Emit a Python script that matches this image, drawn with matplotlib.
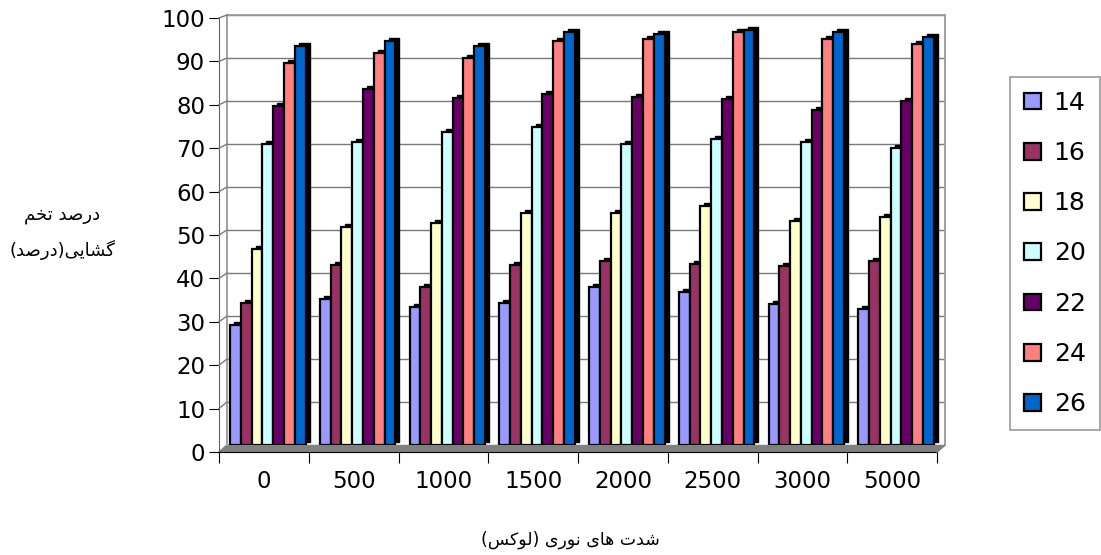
import numpy as np
import matplotlib
matplotlib.use('Agg')
import matplotlib.pyplot as plt
import matplotlib.transforms as mtransforms
from matplotlib.patches import Polygon
from matplotlib.lines import Line2D

# light intensity (lux) groups and temperature series
groups = ['0', '500', '1000', '1500', '2000', '2500', '3000', '5000']
series = ['14', '16', '18', '20', '22', '24', '26']
colors = ['#9999FF', '#993366', '#FFFFCC', '#CCFFFF', '#660066', '#FF8080', '#0066CC']

t14 = [28, 34, 32, 33, 36.7, 35.6, 32.8, 31.7]
t16 = [33, 41.8, 36.8, 41.8, 42.8, 42.2, 41.7, 42.9]
t18 = [45.6, 50.6, 51.7, 53.9, 53.9, 55.6, 52.1, 53.1]
t20 = [70, 70.5, 72.7, 74, 70, 71.2, 70.5, 69]
t22 = [78.8, 82.7, 80.8, 81.7, 81, 80.5, 77.8, 80]
t24 = [88.9, 91.1, 90, 93.9, 94.4, 96, 94.4, 93.3]
t26 = [92.9, 94, 92.9, 96.1, 95.6, 96.6, 96.1, 95]
values = [t14, t16, t18, t20, t22, t24, t26]

ylabel_lines = ['درصد تخم', 'گشایی(درصد)']
xlabel = 'شدت های نوری (لوکس)'

# --- minimal arabic shaping + rtl ordering (matplotlib draws left to right) ---
FORMS = {
    'ا': ('\uFE8D', '\uFE8E'), 'د': ('\uFEA9', '\uFEAA'),
    'ر': ('\uFEAD', '\uFEAE'), 'و': ('\uFEED', '\uFEEE'),
    'ت': ('\uFE95', '\uFE96', '\uFE97', '\uFE98'),
    'خ': ('\uFEA5', '\uFEA6', '\uFEA7', '\uFEA8'),
    'س': ('\uFEB1', '\uFEB2', '\uFEB3', '\uFEB4'),
    'ش': ('\uFEB5', '\uFEB6', '\uFEB7', '\uFEB8'),
    'ص': ('\uFEB9', '\uFEBA', '\uFEBB', '\uFEBC'),
    'ل': ('\uFEDD', '\uFEDE', '\uFEDF', '\uFEE0'),
    'م': ('\uFEE1', '\uFEE2', '\uFEE3', '\uFEE4'),
    'ن': ('\uFEE5', '\uFEE6', '\uFEE7', '\uFEE8'),
    'ه': ('\uFEE9', '\uFEEA', '\uFEEB', '\uFEEC'),
    'ی': ('\uFBFC', '\uFBFD', '\uFBFE', '\uFBFF'),
    'ک': ('\uFB8E', '\uFB8F', '\uFB90', '\uFB91'),
    'گ': ('\uFB92', '\uFB93', '\uFB94', '\uFB95'),
}
MIRROR = {'(': ')', ')': '('}


def rtl(text):
    out = []
    for i, c in enumerate(text):
        f = FORMS.get(c)
        if f is None:
            out.append(MIRROR.get(c, c))
            continue
        prev = text[i - 1] if i > 0 else ''
        nxt = text[i + 1] if i + 1 < len(text) else ''
        jp = prev in FORMS and len(FORMS[prev]) == 4
        jn = len(f) == 4 and nxt in FORMS
        if len(f) == 2:
            out.append(f[1] if jp else f[0])
        else:
            out.append(f[3] if (jp and jn) else f[1] if jp else f[2] if jn else f[0])
    return ''.join(reversed(out))


plt.rcParams['font.family'] = ['DejaVu Sans']

W, H = 1101, 555
fig = plt.figure(figsize=(W / 100, H / 100), dpi=100)

# back wall (x 227..945, y 15..445) and front axis frame (x 219..937, y 18..452)
bx0, bx1, by0, by1 = 227, 945, 445, 15
fx0, fx1, fy0, fy1 = 219, 937, 452, 18
ax = fig.add_axes([bx0 / W, 1 - by0 / H, (bx1 - bx0) / W, (by0 - by1) / H])
axf = fig.add_axes([fx0 / W, 1 - fy0 / H, (fx1 - fx0) / W, (fy0 - fy1) / H])

n = len(groups)
for a in (ax, axf):
    a.set_xlim(0, n)
    a.set_ylim(0, 100)

# back wall
ax.set_yticks(np.arange(0, 101, 10))
ax.set_xticks([])
ax.yaxis.grid(True, color='#7a7a7a', lw=1)
ax.set_axisbelow(True)
ax.tick_params(left=False, labelleft=False)
for s in ('top', 'right', 'left'):
    ax.spines[s].set_color('#9a9a9a')
    ax.spines[s].set_linewidth(1.3)
ax.spines['bottom'].set_visible(False)

# bars with black depth to mimic the 3d columns
bw = 0.12
depth = mtransforms.offset_copy(ax.transData, fig, x=4, y=3, units='dots')
x = np.arange(n)
for i, (vals, col) in enumerate(zip(values, colors)):
    left = x + 0.035 + i * bw
    ax.bar(left, vals, bw, align='edge', color='black', edgecolor='black',
           lw=1, transform=depth, zorder=2 + i * 2)
    ax.bar(left, vals, bw, align='edge', color=col, edgecolor='black',
           lw=1.6, zorder=3 + i * 2, label=series[i])


# floor and side wall
def fp(px, py):
    return (px / W, 1 - py / H)


floor = Polygon([fp(bx0, by0), fp(bx1, by0), fp(fx1, fy0), fp(fx0, fy0)],
                closed=True, transform=fig.transFigure, facecolor='#808080',
                edgecolor='#808080', zorder=-1)
fig.patches.append(floor)
for v in range(10, 101, 10):
    yb = by0 - (by0 - by1) * v / 100
    yf = fy0 - (fy0 - fy1) * v / 100
    fig.lines.append(Line2D([fx0 / W, bx0 / W], [1 - yf / H, 1 - yb / H],
                            transform=fig.transFigure, color='#7a7a7a', lw=1))
fig.lines.append(Line2D([fx1 / W, bx1 / W], [1 - fy0 / H, 1 - by0 / H],
                        transform=fig.transFigure, color='#808080', lw=1))

# front axes: ticks and labels only
axf.patch.set_visible(False)
for s in ('top', 'right'):
    axf.spines[s].set_visible(False)
axf.spines['left'].set_color('#606060')
axf.spines['bottom'].set_color('black')
axf.set_yticks(np.arange(0, 101, 10))
axf.tick_params(axis='y', labelsize=16.5, length=7, pad=3, color='black')
axf.set_xticks(np.arange(0, n + 1))
axf.set_xticks(np.arange(n) + 0.5, minor=True)
axf.set_xticklabels(groups, minor=True)
axf.tick_params(axis='x', which='major', labelbottom=False, length=8, color='black')
axf.tick_params(axis='x', which='minor', length=0, labelsize=16.5, pad=13)

# axis titles
fig.text(62 / W, 1 - 215 / H, rtl(ylabel_lines[0]), family='DejaVu Sans',
         fontsize=13, ha='center', va='center')
fig.text(62 / W, 1 - 250 / H, rtl(ylabel_lines[1]), family='DejaVu Sans',
         fontsize=13, ha='center', va='center')
fig.text(570 / W, 1 - 540 / H, rtl(xlabel), family='DejaVu Sans',
         fontsize=12.5, ha='center', va='center')

handles, labels = ax.get_legend_handles_labels()
leg = fig.legend(handles, labels, loc='upper left', bbox_to_anchor=(1010 / W, 1 - 77 / H),
                 borderaxespad=0, fontsize=18, frameon=True, fancybox=False,
                 edgecolor='#808080', handlelength=0.7, handleheight=0.65,
                 handletextpad=0.5, labelspacing=1.05, borderpad=0.55)
leg.get_frame().set_linewidth(1.2)

fig.savefig('out.png', dpi=100)
